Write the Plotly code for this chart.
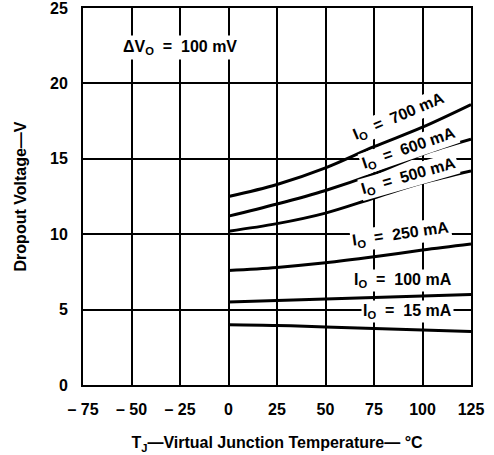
import plotly.graph_objects as go

temps = [0, 25, 50, 75, 100, 125]
v700 = [12.5, 13.3, 14.4, 15.8, 17.1, 18.6]
v600 = [11.2, 12.0, 12.9, 14.0, 15.3, 16.3]
v500 = [10.2, 10.7, 11.4, 12.4, 13.4, 14.2]
v250 = [7.6, 7.8, 8.1, 8.5, 8.95, 9.35]
v100 = [5.5, 5.6, 5.7, 5.8, 5.9, 6.0]
v15 = [4.0, 3.95, 3.85, 3.75, 3.65, 3.55]

series = [("700 mA", v700), ("600 mA", v600), ("500 mA", v500),
          ("250 mA", v250), ("100 mA", v100), ("15 mA", v15)]

# label positions (data coords) and angles
label_x = [88, 93, 93, 89, 90, 92.5]
label_y = [17.8, 15.7, 13.8, 9.95, 6.95, 4.85]
label_angle = [-23, -19, -16, -8, 0, 0]

x_tickvals = [-75, -50, -25, 0, 25, 50, 75, 100, 125]
x_ticktext = ["\u2013 75", "\u2013 50", "\u2013 25", "0", "25", "50", "75", "100", "125"]
y_tickvals = [0, 5, 10, 15, 20, 25]
y_ticktext = ["0", "5", "10", "15", "20", "25"]

FONT = "Liberation Sans, Arial, sans-serif"
NB = "\u00a0"

fig = go.Figure()
for name, vals in series:
    fig.add_trace(go.Scatter(x=temps, y=vals, mode="lines", name=name,
                             line=dict(color="black", width=3, shape="spline"),
                             showlegend=False, cliponaxis=False))

for (name, _), lx, ly, ang in zip(series, label_x, label_y, label_angle):
    txt = "I<sub>O</sub>" + NB * 2 + "=" + NB * 2 + name.replace(" ", NB)
    fig.add_annotation(x=lx, y=ly, text=txt, showarrow=False,
                       textangle=ang, bgcolor="white", borderpad=1,
                       font=dict(family=FONT, size=16, color="black", weight="bold"))

fig.add_annotation(x=-25, y=22.4,
                   text="\u0394V<sub>O</sub>" + NB * 2 + "=" + NB * 2 + "100" + NB + "mV",
                   showarrow=False, bgcolor="white", borderpad=2,
                   font=dict(family=FONT, size=16, color="black", weight="bold"))

fig.update_layout(
    width=494, height=455,
    margin=dict(l=83, r=23, t=8, b=70),
    paper_bgcolor="white", plot_bgcolor="white",
    font=dict(family=FONT, size=16, color="black", weight="bold"),
)
fig.update_xaxes(range=[-75, 125], tickmode="array", tickvals=x_tickvals, ticktext=x_ticktext,
                 showgrid=True, gridcolor="black", gridwidth=1.5, zeroline=False,
                 showline=True, linecolor="black", linewidth=2, mirror=True,
                 ticks="", ticklabelstandoff=9, automargin=False,
                 ticklabeloverflow="allow",
                 tickfont=dict(size=16),
                 title=dict(text="T<sub>J</sub>\u2014Virtual Junction Temperature\u2014 \u00b0C",
                            font=dict(size=16, weight="bold"), standoff=20))
fig.update_yaxes(range=[0, 25.0001], tickmode="array", tickvals=y_tickvals, ticktext=y_ticktext,
                 showgrid=True, gridcolor="black", gridwidth=1.5, zeroline=False,
                 showline=True, linecolor="black", linewidth=2, mirror=True,
                 ticks="", ticklabelstandoff=10, automargin=False,
                 ticklabeloverflow="allow",
                 tickfont=dict(size=16),
                 title=dict(text="Dropout Voltage\u2014V", font=dict(size=16, weight="bold"),
                            standoff=19))

fig.write_html("out.html", config={"displayModeBar": False},
               post_script="document.body.style.margin='0';")
